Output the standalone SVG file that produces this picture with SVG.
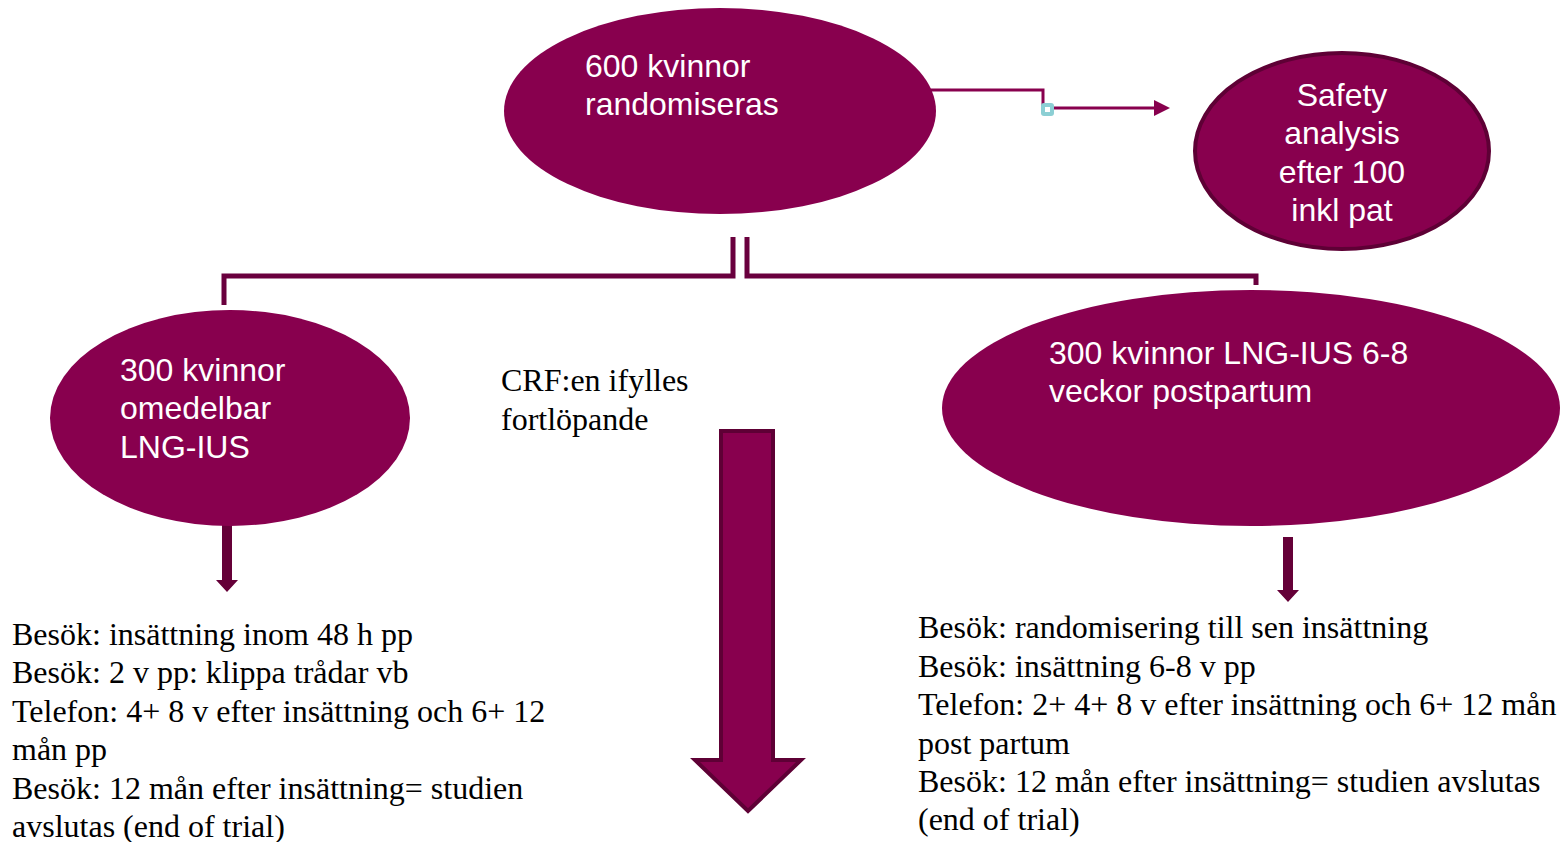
<svg xmlns="http://www.w3.org/2000/svg" width="1566" height="842" viewBox="0 0 1566 842">
  <style>
    .node { fill: #88004e; }
    .ring { fill: #88004e; stroke: #5e0035; stroke-width: 4; }
    .lbl { font-family: "Liberation Sans", Arial, sans-serif; font-size: 32px; fill: #ffffff; }
    .body { font-family: "Liberation Serif", "Times New Roman", serif; font-size: 32px; fill: #000000; }
    .wire { fill: none; stroke: #88004e; stroke-width: 3; }
    .bracket { fill: none; stroke: #6a003e; stroke-width: 5; }
  </style>

  <!-- connectors -->
  <g id="connectors">
    <polyline class="wire" points="930,90 1043,90 1043,108 1160,108"/>
    <path d="M1154,100 L1170,108 L1154,116 Z" fill="#88004e"/>
    <rect x="1041" y="103" width="13" height="13" rx="3" fill="#8ccfd4"/>
    <rect x="1045" y="107" width="5" height="5" fill="#ffffff"/>
    <polyline class="bracket" points="733,237 733,276 224,276 224,305"/>
    <polyline class="bracket" points="747,237 747,276 1256,276 1256,285"/>
    <path d="M222,525 L232,525 L232,580 L238,580 L227,592 L216,580 L222,580 Z" fill="#650038"/>
    <path d="M1283,537 L1293,537 L1293,590 L1299,590 L1288,602 L1277,590 L1283,590 Z" fill="#650038"/>
    <path d="M721,431 L773,431 L773,760 L801,760 L748,811 L695,760 L721,760 Z" fill="#88004e" stroke="#5e0035" stroke-width="4" stroke-linejoin="miter"/>
  </g>

  <g id="root">
    <ellipse class="node" cx="720" cy="111" rx="216" ry="103"/>
    <text class="lbl" x="585" y="77">600 kvinnor</text>
    <text class="lbl" x="585" y="115">randomiseras</text>
  </g>

  <g id="safety">
    <ellipse class="ring" cx="1342" cy="151" rx="147" ry="98"/>
    <text class="lbl" text-anchor="middle" x="1342" y="106">Safety</text>
    <text class="lbl" text-anchor="middle" x="1342" y="144">analysis</text>
    <text class="lbl" text-anchor="middle" x="1342" y="183">efter 100</text>
    <text class="lbl" text-anchor="middle" x="1342" y="221">inkl pat</text>
  </g>

  <g id="immediate">
    <ellipse class="node" cx="230" cy="418" rx="180" ry="108"/>
    <text class="lbl" x="120" y="381">300 kvinnor</text>
    <text class="lbl" x="120" y="419">omedelbar</text>
    <text class="lbl" x="120" y="458">LNG-IUS</text>
  </g>

  <g id="delayed">
    <ellipse class="node" cx="1251" cy="408" rx="309" ry="118"/>
    <text class="lbl" x="1049" y="364">300 kvinnor LNG-IUS 6-8</text>
    <text class="lbl" x="1049" y="402">veckor postpartum</text>
  </g>

  <g id="crf">
    <text class="body" x="501" y="391">CRF:en ifylles</text>
    <text class="body" x="501" y="430">fortlöpande</text>
  </g>

  <g id="visits-immediate">
    <text class="body" x="12" y="645">Besök: insättning inom 48 h pp</text>
    <text class="body" x="12" y="683">Besök: 2 v pp: klippa trådar vb</text>
    <text class="body" x="12" y="722">Telefon: 4+ 8 v efter insättning och 6+ 12</text>
    <text class="body" x="12" y="760">mån pp</text>
    <text class="body" x="12" y="799">Besök: 12 mån efter insättning= studien</text>
    <text class="body" x="12" y="837">avslutas (end of trial)</text>
  </g>

  <g id="visits-delayed">
    <text class="body" x="918" y="638">Besök: randomisering till sen insättning</text>
    <text class="body" x="918" y="677">Besök: insättning 6-8 v pp</text>
    <text class="body" x="918" y="715">Telefon: 2+ 4+ 8 v efter insättning och 6+ 12 mån</text>
    <text class="body" x="918" y="754">post partum</text>
    <text class="body" x="918" y="792">Besök: 12 mån efter insättning= studien avslutas</text>
    <text class="body" x="918" y="830">(end of trial)</text>
  </g>
</svg>
